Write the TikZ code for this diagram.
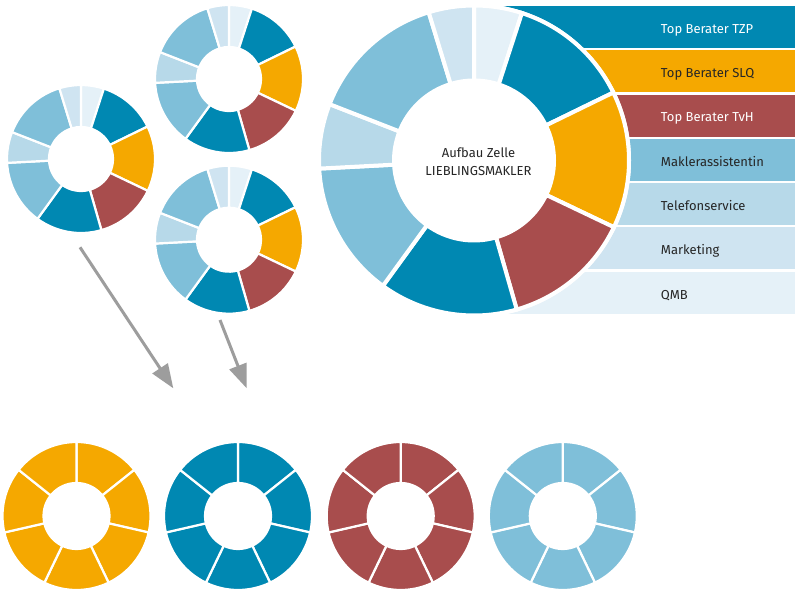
\documentclass[tikz,border=0pt]{standalone}
\usepackage{fontspec}
\setmainfont{Fira Sans}
\usetikzlibrary{arrows.meta,calc}
\definecolor{cdb}{HTML}{0088B2}
\definecolor{cor}{HTML}{F5A800}
\definecolor{crd}{HTML}{A84D4D}
\definecolor{clb}{HTML}{7FBFD9}
\definecolor{ctel}{HTML}{B7D9E9}
\definecolor{cmkt}{HTML}{CFE4F1}
\definecolor{cqmb}{HTML}{E5F1F8}
\definecolor{carrow}{HTML}{9D9D9D}
\definecolor{ctext}{HTML}{262626}
\tikzset{
  legendtext/.style={anchor=base west, inner sep=0pt, font=\fontsize{13}{15}\selectfont, text=ctext},
  centertext/.style={anchor=base, inner sep=0pt, font=\fontsize{13}{15}\selectfont, text=ctext},
  arrowline/.style={draw=carrow, line width=3pt, -{Triangle[length=24pt,width=18pt]}},
  segment/.style={draw=white, line join=miter}
}
% #1 cx, #2 cy, #3 rin, #4 rout, #5 gap, #6 a1, #7 a2, #8 colour
\newcommand\ringseg[8]{%
  \filldraw[segment, fill=#8, line width=#5pt]
    ($(#1,#2)+(#6:#4pt)$) arc[start angle=#6, end angle=#7, radius=#4pt]
    -- ($(#1,#2)+(#7:#3pt)$) arc[start angle=#7, end angle=#6, radius=#3pt] -- cycle;}
% structured donut (nine parts)
\newcommand\celldonut[5]{%
  \foreach \aa/\bb/\cc in {72/90/cqmb, 26/72/cdb, -25.5/26/cor, -74/-25.5/crd,
      -126/-74/cdb, -177/-126/clb, -201.3/-177/ctel, -253/-201.3/clb, -270/-253/cmkt}{%
    \ringseg{#1}{#2}{#3}{#4}{#5}{\aa}{\bb}{\cc}}}
% uniform donut (seven parts)
\newcommand\unidonut[3]{%
  \foreach \k in {0,...,6}{%
    \pgfmathsetmacro\aa{90-51.428571*(\k+1)}%
    \pgfmathsetmacro\bb{90-51.428571*\k}%
    \ringseg{#1}{#2}{33}{74}{2.2}{\aa}{\bb}{#3}}}
\begin{document}
\begin{tikzpicture}[x=1pt,y=1pt]
\useasboundingbox (0,0) rectangle (800,600);
\fill[white] (0,0) rectangle (800,600);

% legend bars
\foreach \i/\cc in {0/cdb,1/cor,2/crd,3/clb,4/ctel,5/cmkt,6/cqmb}{
  \fill[\cc] (475,{600-6-44.3*\i}) rectangle (795,{600-48-44.3*\i});
}
% white halo and big donut
\fill[white] (474,439.5) circle[radius=157pt];
\celldonut{474}{439.5}{80}{155}{4}

% legend labels
\node[legendtext, text=white] (lTZP) at (660.7,{600-33.3}) {Top Berater TZP};
\node[legendtext] (lSLQ) at (660.7,{600-33.3-44.3}) {Top Berater SLQ};
\node[legendtext, text=white] (lTvH) at (660.7,{600-33.3-2*44.3}) {Top Berater TvH};
\node[legendtext] (lMA) at (660.7,{600-33.3-3*44.3}) {Maklerassistentin};
\node[legendtext] (lTel) at (660.7,{600-33.3-4*44.3}) {Telefonservice};
\node[legendtext] (lMkt) at (660.7,{600-33.3-5*44.3}) {Marketing};
\node[legendtext] (lQMB) at (660.7,{600-33.3-6*44.3}) {QMB};

% centre title
\node[centertext] (title1) at (478.5,{600-157.3}) {Aufbau Zelle};
\node[centertext] (title2) at (478.5,{600-175.7}) {LIEBLINGSMAKLER};

% small structured donuts
\celldonut{81}{441}{32}{74}{2.2}
\celldonut{229}{521}{32}{74}{2.2}
\celldonut{229}{360.3}{32}{74}{2.2}

% arrows
\coordinate (a1s) at (80,352.7);
\coordinate (a1e) at (173.3,211.7);
\coordinate (a2s) at (220,280);
\coordinate (a2e) at (246.7,211.7);
\draw[arrowline] (a1s) -- (a1e);
\draw[arrowline] (a2s) -- (a2e);

% bottom uniform donuts
\unidonut{76.5}{84}{cor}
\unidonut{238}{84}{cdb}
\unidonut{400.7}{84}{crd}
\unidonut{562.8}{84}{clb}
\end{tikzpicture}
\end{document}
